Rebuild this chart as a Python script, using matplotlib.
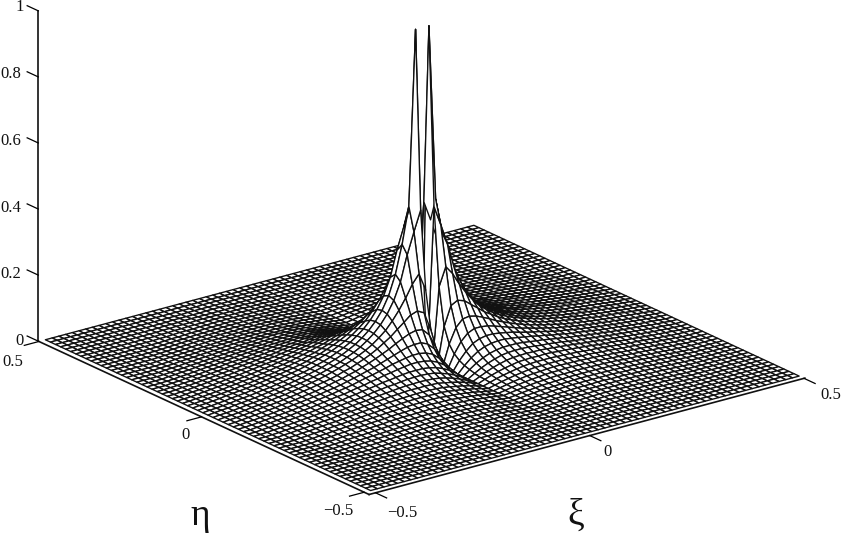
import numpy as np
import matplotlib
matplotlib.use("Agg")
import matplotlib.pyplot as plt
from mpl_toolkits.mplot3d import Axes3D  # noqa

# the mesh has 64 cells a side; only one quadrant is typed, the surface looks
# mirrored in both axes. rows go eta = 0, 1/64, ... and columns xi = 0, 1/64, ...
# zeros at the end of a row are left out
z_quadrant = [
    [0, 1.0, .47, .36, .275, .216, .176, .148, .126, .109, .095, .084, .074, .066, .059, .052, .047, .042, .037, .033, .029, .026, .023, .02, .017, .014, .012, .01, .008, .005, .004, .002],
    [0, .46, .40, .336, .259, .208, .172, .145, .124, .108, .094, .083, .074, .065, .058, .052, .046, .041, .037, .033, .029, .026, .022, .02, .017, .014, .012, .01, .007, .005, .003, .002],
    [0, .225, .28, .254, .217, .185, .158, .135, .118, .103, .091, .081, .072, .065, .058, .052, .046, .041, .037, .033, .029, .026, .022, .02, .017, .014, .012, .01, .007, .005, .003, .002],
    [0, .112, .169, .18, .173, .156, .14, .123, .11, .097, .086, .077, .069, .061, .056, .049, .044, .04, .036, .032, .029, .025, .022, .019, .016, .014, .012, .01, .007, .005, .003, .002],
    [0, .065, .109, .13, .133, .128, .119, .109, .098, .089, .08, .072, .065, .058, .053, .047, .043, .038, .034, .03, .027, .024, .021, .018, .016, .013, .011, .009, .007, .005, .003, .001],
    [0, .042, .074, .094, .103, .103, .1, .094, .087, .08, .073, .066, .061, .055, .05, .045, .04, .036, .033, .029, .026, .023, .02, .018, .015, .013, .01, .008, .006, .004, .003, .001],
    [0, .029, .052, .07, .079, .083, .083, .08, .076, .072, .066, .061, .056, .052, .047, .042, .038, .035, .031, .028, .025, .022, .019, .017, .014, .012, .01, .008, .006, .004, .002, .001],
    [0, .021, .039, .053, .062, .067, .069, .069, .066, .063, .059, .056, .051, .048, .043, .04, .036, .032, .03, .027, .024, .021, .018, .016, .014, .011, .009, .007, .005, .004, .002],
    [0, .016, .03, .041, .049, .054, .057, .057, .057, .055, .052, .049, .047, .043, .04, .037, .033, .031, .027, .025, .022, .02, .017, .015, .013, .011, .009, .007, .005, .003, .002],
    [0, .012, .023, .032, .039, .045, .048, .049, .049, .048, .046, .043, .042, .039, .037, .033, .03, .028, .026, .023, .021, .018, .016, .014, .012, .01, .008, .006, .004, .003, .001],
    [0, .009, .018, .026, .032, .037, .04, .041, .042, .041, .041, .039, .037, .035, .033, .031, .028, .026, .024, .021, .019, .017, .015, .013, .011, .009, .007, .005, .004, .002, .001],
    [0, .008, .015, .021, .026, .03, .034, .035, .036, .035, .036, .035, .033, .032, .03, .028, .026, .024, .021, .019, .018, .016, .013, .012, .01, .008, .006, .005, .003, .002],
    [0, .006, .012, .017, .021, .025, .028, .03, .031, .031, .031, .03, .029, .028, .027, .025, .023, .022, .02, .018, .016, .014, .012, .011, .009, .007, .005, .004, .002, .001],
    [0, .005, .01, .014, .018, .021, .024, .026, .026, .027, .027, .027, .026, .025, .023, .023, .021, .019, .018, .016, .014, .013, .011, .01, .008, .006, .005, .003, .002],
    [0, .004, .008, .012, .015, .018, .02, .021, .023, .024, .024, .023, .023, .022, .021, .02, .019, .017, .016, .014, .013, .011, .01, .008, .007, .005, .004, .002, .001],
    [0, .003, .007, .01, .013, .015, .017, .019, .02, .02, .021, .021, .02, .02, .018, .018, .017, .015, .014, .013, .011, .01, .009, .007, .006, .004, .003, .002],
    [0, .003, .006, .008, .011, .013, .014, .016, .017, .017, .017, .018, .017, .017, .016, .016, .015, .014, .012, .011, .01, .009, .007, .006, .005, .003, .002, .001],
    [0, .002, .005, .007, .009, .011, .012, .013, .014, .015, .015, .015, .015, .015, .014, .014, .013, .012, .011, .01, .009, .007, .006, .005, .004, .002, .001],
    [0, .002, .004, .006, .008, .009, .01, .011, .012, .013, .013, .013, .013, .013, .012, .012, .011, .01, .009, .008, .007, .006, .005, .004, .003, .002, .001],
    [0, .002, .003, .005, .006, .008, .009, .01, .011, .011, .011, .011, .011, .011, .011, .01, .009, .009, .008, .007, .006, .005, .004, .003, .002, .001],
    [0, .001, .003, .004, .005, .007, .007, .008, .009, .009, .009, .01, .01, .009, .009, .009, .008, .007, .007, .006, .005, .004, .003, .002, .001],
    [0, .001, .002, .004, .005, .006, .006, .007, .007, .008, .008, .008, .008, .008, .008, .007, .007, .006, .005, .005, .004, .003, .002, .001],
    [0, .001, .002, .003, .004, .005, .005, .006, .006, .007, .007, .007, .007, .007, .006, .006, .005, .005, .004, .003, .003, .002, .001],
    [0, .001, .002, .002, .003, .004, .004, .005, .005, .006, .006, .006, .006, .005, .005, .005, .004, .004, .003, .002, .002, .001],
    [0, .001, .001, .002, .003, .003, .004, .004, .004, .005, .005, .005, .005, .005, .004, .004, .003, .003, .003, .002, .001, .001],
    [0, .001, .001, .001, .002, .003, .003, .003, .004, .004, .004, .004, .004, .004, .003, .003, .003, .002, .002, .001, .001],
    [0, .001, .001, .001, .002, .002, .002, .003, .003, .003, .003, .003, .003, .003, .003, .002, .002, .002, .001, .001],
    [0, 0, .001, .001, .001, .001, .002, .002, .002, .002, .002, .002, .002, .002, .002, .002, .001, .001, .001],
    [0, 0, 0, .001, .001, .001, .001, .001, .002, .002, .002, .002, .001, .001, .001, .001, .001],
    [0, 0, 0, 0, .001, .001, .001, .001, .001, .001, .001, .001, .001, .001],
    [0, 0, 0, 0, 0, 0, .001, .001, .001, .001, .001],
    [0],
    [0],
]

horizontal_ticks = [-0.5, 0, 0.5]
z_ticks = [0, 0.2, 0.4, 0.6, 0.8, 1]
z_tick_labels = ["0", "0.2", "0.4", "0.6", "0.8", "1"]

W, H = 842, 541


def put_text(ax_fig, px, py, s, size=12):
    # px, py are picture pixels, from the top left
    ax_fig.text(px / W, 1 - py / H, s, ha="center", va="center", fontsize=size,
                family=["Liberation Serif", "DejaVu Serif"], color="#111111")


# mirror the quadrant out to the whole square
quad = np.zeros((33, 33))
for j, row in enumerate(z_quadrant):
    quad[j, :len(row)] = row
half = np.hstack([quad[:, :0:-1], quad])
z = np.vstack([half[:0:-1], half])
xi = np.linspace(-0.5, 0.5, 65)
eta = np.linspace(-0.5, 0.5, 65)
X, Y = np.meshgrid(xi, eta)

fig = plt.figure(figsize=(W / 100, H / 100), dpi=100)
ax = fig.add_axes([-0.008, 0.127, 1, 1], projection="3d", proj_type="ortho")
ax.view_init(elev=20.6, azim=-127.2)
ax.set_box_aspect((1, 1, 0.645), zoom=1.526)

surf = ax.plot_surface(X, Y, z, rstride=1, cstride=1, color="white", shade=False,
                       edgecolor="#111111", linewidth=0.98, antialiased=True)
surf.set_clip_on(False)

# the axis lines sit a little off the mesh on the two near sides only
ax.set_xlim(-0.515, 0.502, view_margin=0)
ax.set_ylim(-0.515, 0.502, view_margin=0)
ax.set_zlim(0, 1, view_margin=0)
ax.set_xticks(horizontal_ticks)
ax.set_yticks(horizontal_ticks)
ax.set_zticks(z_ticks)
ax.set_xticklabels([])
ax.set_yticklabels([])
ax.set_zticklabels([])
ax.grid(False)
for a in (ax.xaxis, ax.yaxis, ax.zaxis):
    a.set_pane_color((1, 1, 1, 0))
    a.pane.set_edgecolor((1, 1, 1, 0))
    a.line.set_color("#111111")
    a.line.set_linewidth(1.2)
    a._axinfo["tick"]["inward_factor"] = 0
    a._axinfo["tick"]["outward_factor"] = -0.42
    a._axinfo["tick"]["linewidth"] = {True: 0.9, False: 0.5}
    a._axinfo["tick"]["color"] = "#111111"

# z ticks lean back along eta in the original
ax.zaxis._get_tickdir = lambda position: 1
ax.zaxis._axinfo["tick"]["outward_factor"] = 0.42

# tick labels
for py, s in zip([341, 274, 208, 141, 74, 7], z_tick_labels):
    put_text(fig, 20 if len(s) == 1 else 11, py, s)
put_text(fig, 13, 362, "0.5")
put_text(fig, 185, 435, "0")
put_text(fig, 338, 511, "\u22120.5")
put_text(fig, 402, 513, "\u22120.5")
put_text(fig, 608, 452, "0")
put_text(fig, 831, 395, "0.5")
put_text(fig, 200, 516, "\u03b7", size=27)
put_text(fig, 576, 515, "\u03be", size=27)

fig.savefig("out.png", dpi=100)
